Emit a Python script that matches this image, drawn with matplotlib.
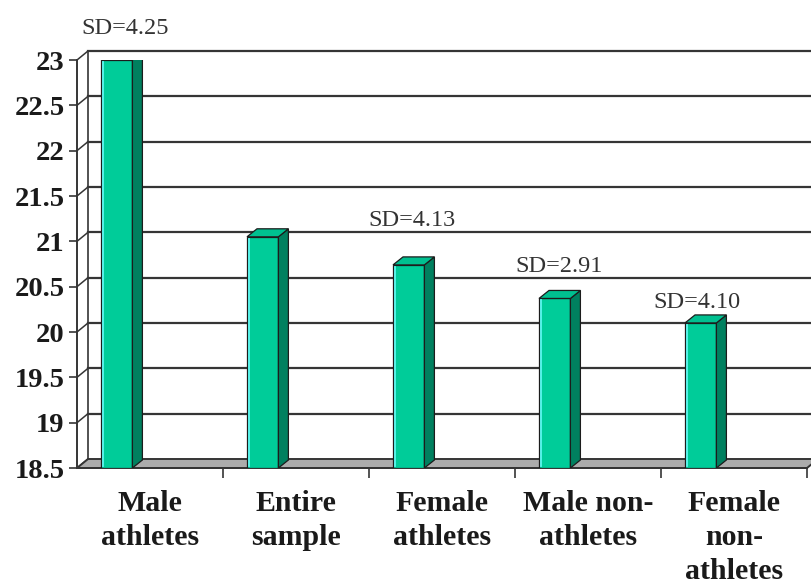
import numpy as np
import matplotlib
matplotlib.use("Agg")
import matplotlib.pyplot as plt
from matplotlib.patches import Polygon
from matplotlib.ticker import FuncFormatter

groups = ["Male\nathletes", "Entire\nsample", "Female\nathletes", "Male non-\nathletes", "Female\nnon-\nathletes"]
means = [23.0, 21.05, 20.74, 20.37, 20.1]
sd_text = ["SD=4.25", None, "SD=4.13", "SD=2.91", "SD=4.10"]

# where each SD note sits: (x shift from category centre, y in data units)
sd_pos = [(-0.17, 23.35), None, (-0.205, 21.23), (-0.20, 20.72), (-0.254, 20.32)]

Y0, Y1 = 18.5, 23.0
W, H, DPI = 812, 587, 100
AX_L, AX_R, AX_T, AX_B = 77, 807, 60, 468          # axes box in pixels (from top-left)

fig = plt.figure(figsize=(W / DPI, H / DPI), dpi=DPI)
ax = fig.add_axes([AX_L / W, (H - AX_B) / H, (AX_R - AX_L) / W, (AX_B - AX_T) / H])
ax.set_xlim(-0.5, len(groups) - 0.5)
ax.set_ylim(Y0, Y1)

# pixel -> data conversions for the fake 3D depth
px_x = (len(groups)) / (AX_R - AX_L)
px_y = (Y1 - Y0) / (AX_B - AX_T)
wall_dx, wall_dy = 11 * px_x, 9 * px_y       # back wall offset
bar_dx, bar_dy = 10 * px_x, 8 * px_y         # bar depth

line_col = "#353535"
xa, xb = -0.5, len(groups) - 0.5
yticks = np.arange(Y0, Y1 + 0.01, 0.5)

# back wall gridlines, side wall diagonals, wall edge
for v in yticks[1:]:
    ax.plot([xa + wall_dx, xb + wall_dx], [v + wall_dy, v + wall_dy], color=line_col,
            lw=1.6, zorder=1, clip_on=False)
for v in yticks:
    ax.plot([xa, xa + wall_dx], [v, v + wall_dy], color=line_col, lw=1.1, zorder=1, clip_on=False)
ax.plot([xa + wall_dx, xa + wall_dx], [Y0 + wall_dy, Y1 + wall_dy], color=line_col,
        lw=1.2, zorder=1, clip_on=False)

# floor
floor = Polygon([(xa, Y0), (xb, Y0), (xb + wall_dx, Y0 + wall_dy), (xa + wall_dx, Y0 + wall_dy)],
                closed=True, facecolor="#acacac", edgecolor=line_col, lw=1.4, zorder=2, clip_on=False)
ax.add_patch(floor)

# bars: front face + side + top
bw = 0.215
x = np.arange(len(groups)) - 0.228
heights = np.array(means) - Y0
ax.bar(x, heights, bottom=Y0, width=bw, color="#00cc99", edgecolor="#1c1c1c", lw=0.9, zorder=4)
for xi, m in zip(x, means):
    l, r = xi - bw / 2, xi + bw / 2
    side = Polygon([(r, Y0), (r + bar_dx, Y0 + bar_dy), (r + bar_dx, m + bar_dy), (r, m)],
                   closed=True, facecolor="#00805f", edgecolor="#1c1c1c", lw=0.9, zorder=4)
    top = Polygon([(l, m), (r, m), (r + bar_dx, m + bar_dy), (l + bar_dx, m + bar_dy)],
                  closed=True, facecolor="#00c090", edgecolor="#1c1c1c", lw=0.9, zorder=4)
    ax.add_patch(side)
    ax.add_patch(top)
    ax.plot([l + 0.012, l + 0.012], [Y0 + 0.02, m - 0.02], color="#5ff5f0", lw=1.3, zorder=5)

# SD notes
for i, (txt, pos) in enumerate(zip(sd_text, sd_pos)):
    if txt is None:
        continue
    ax.text(i + pos[0], pos[1], txt, ha="center", va="center", fontsize=17.5,
            family="Liberation Serif", color="#333333", zorder=6, clip_on=False)

# axes styling
for s in ["top", "right"]:
    ax.spines[s].set_visible(False)
for s in ["left", "bottom"]:
    ax.spines[s].set_color(line_col)
    ax.spines[s].set_linewidth(1.4)
    ax.spines[s].set_zorder(3)

ax.set_yticks(yticks)
ax.yaxis.set_major_formatter(FuncFormatter(lambda v, _: f"{v:g}"))
ax.tick_params(axis="y", length=6, width=1.2, color=line_col, pad=3)
for lab in ax.get_yticklabels():
    lab.set_family("Liberation Serif")
    lab.set_fontweight("bold")
    lab.set_fontsize(20.5)
    lab.set_color("#1a1a1a")

ax.set_xticks(np.arange(len(groups)))
ax.set_xticklabels(groups, family="Liberation Serif", fontweight="bold", fontsize=21.5,
                   color="#1a1a1a", linespacing=1.32)
ax.tick_params(axis="x", which="major", length=0, pad=16)
ax.set_xticks(np.arange(len(groups)) + 0.5, minor=True)
ax.tick_params(axis="x", which="minor", length=7, width=1.2, color=line_col)

fig.savefig("out.png", dpi=DPI)
plt.close(fig)
